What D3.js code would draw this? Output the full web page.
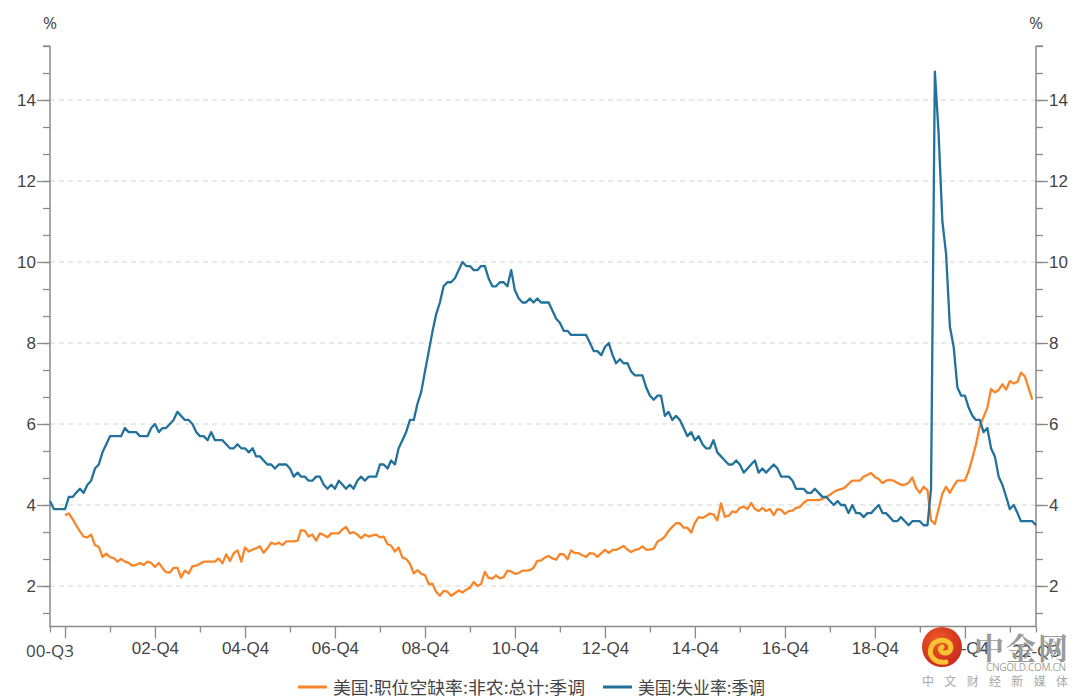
<!DOCTYPE html>
<html><head><meta charset="utf-8">
<script src="https://cdn.jsdelivr.net/npm/d3@7"></script>
<style>
html,body{margin:0;padding:0;background:#fff;}
svg{display:block;font-family:"Open Sans","Noto Sans CJK SC",sans-serif;}
</style></head>
<body>
<svg id="chart" width="1080" height="699"></svg>
<script>
// ---- data ----
const unempStart = [2000, 8];   // Aug 2000, monthly
const unempRate = [
4.1,3.9,3.9,3.9,3.9,
4.2,4.2,4.3,4.4,4.3,4.5,4.6,4.9,5.0,5.3,5.5,5.7,
5.7,5.7,5.7,5.9,5.8,5.8,5.8,5.7,5.7,5.7,5.9,6.0,
5.8,5.9,5.9,6.0,6.1,6.3,6.2,6.1,6.1,6.0,5.8,5.7,
5.7,5.6,5.8,5.6,5.6,5.6,5.5,5.4,5.4,5.5,5.4,5.4,
5.3,5.4,5.2,5.2,5.1,5.0,5.0,4.9,5.0,5.0,5.0,4.9,
4.7,4.8,4.7,4.7,4.6,4.6,4.7,4.7,4.5,4.4,4.5,4.4,
4.6,4.5,4.4,4.5,4.4,4.6,4.7,4.6,4.7,4.7,4.7,5.0,
5.0,4.9,5.1,5.0,5.4,5.6,5.8,6.1,6.1,6.5,6.8,7.3,
7.8,8.3,8.7,9.0,9.4,9.5,9.5,9.6,9.8,10.0,9.9,9.9,
9.8,9.8,9.9,9.9,9.6,9.4,9.4,9.5,9.5,9.4,9.8,9.3,
9.1,9.0,9.0,9.1,9.0,9.1,9.0,9.0,9.0,8.8,8.6,8.5,
8.3,8.3,8.2,8.2,8.2,8.2,8.2,8.0,7.8,7.8,7.7,7.9,
8.0,7.7,7.5,7.6,7.5,7.5,7.3,7.2,7.2,7.2,6.9,6.7,
6.6,6.7,6.7,6.2,6.3,6.1,6.2,6.1,5.9,5.7,5.8,5.6,
5.7,5.5,5.4,5.4,5.6,5.3,5.2,5.1,5.0,5.0,5.1,5.0,
4.8,4.9,5.0,5.1,4.8,4.9,4.8,4.9,5.0,4.9,4.7,4.7,
4.7,4.6,4.4,4.4,4.4,4.3,4.3,4.4,4.3,4.2,4.2,4.1,
4.0,4.1,4.0,4.0,3.8,4.0,3.8,3.8,3.7,3.8,3.8,3.9,
4.0,3.8,3.8,3.7,3.6,3.6,3.7,3.6,3.5,3.6,3.6,3.6,
3.5,3.5,4.4,14.7,13.2,11.0,10.2,8.4,7.9,6.9,6.7,6.7,
6.4,6.2,6.1,6.1,5.8,5.9,5.4,5.2,4.7,4.5,4.2,3.9,
4.0,3.8,3.6,3.6,3.6,3.6,3.5
];
const vacancyStart = [2000, 12]; // Dec 2000, monthly
const vacancyRate = [
3.75,
3.79,3.65,3.5,3.35,3.22,3.2,3.27,3.01,2.97,2.72,2.8,2.71,
2.69,2.6,2.67,2.6,2.57,2.5,2.52,2.57,2.52,2.6,2.57,2.47,
2.57,2.44,2.34,2.33,2.45,2.45,2.21,2.38,2.31,2.49,2.5,2.55,
2.6,2.6,2.6,2.6,2.68,2.56,2.78,2.62,2.81,2.88,2.6,2.95,
2.85,2.9,2.93,2.98,2.82,2.93,3.07,3.03,3.07,3.01,3.1,3.1,
3.1,3.12,3.38,3.36,3.22,3.27,3.12,3.3,3.26,3.2,3.3,3.3,
3.3,3.4,3.46,3.3,3.33,3.27,3.18,3.27,3.22,3.25,3.27,3.2,
3.22,3.03,3.0,2.85,2.95,2.7,2.67,2.55,2.31,2.39,2.3,2.27,
2.05,2.05,1.86,1.76,1.88,1.86,1.76,1.82,1.89,1.84,1.91,1.96,
2.1,2.0,2.05,2.35,2.2,2.18,2.26,2.19,2.22,2.38,2.36,2.3,
2.32,2.38,2.38,2.39,2.45,2.62,2.63,2.7,2.74,2.68,2.65,2.79,
2.78,2.66,2.88,2.81,2.81,2.76,2.72,2.81,2.8,2.72,2.81,2.89,
2.82,2.89,2.89,2.94,2.99,2.9,2.84,2.89,2.91,2.98,2.9,2.9,
2.92,3.1,3.14,3.22,3.36,3.46,3.55,3.55,3.44,3.44,3.32,3.56,
3.7,3.68,3.73,3.79,3.77,3.62,4.04,3.71,3.73,3.84,3.82,3.93,
3.96,3.9,4.05,3.9,3.85,3.93,3.85,3.9,3.75,3.9,3.88,3.78,
3.85,3.86,3.93,3.95,4.05,4.12,4.12,4.12,4.12,4.15,4.2,4.25,
4.32,4.37,4.39,4.43,4.52,4.6,4.6,4.6,4.7,4.74,4.79,4.69,
4.64,4.54,4.6,4.62,4.6,4.55,4.5,4.5,4.55,4.68,4.42,4.3,
4.45,4.37,3.62,3.53,3.9,4.28,4.45,4.3,4.47,4.6,4.6,4.6,
4.84,5.17,5.5,5.95,6.17,6.4,6.86,6.78,6.84,6.98,6.85,7.06,
7.0,7.04,7.27,7.18,6.9,6.6
];
const seriesNames = ["美国:职位空缺率:非农:总计:季调", "美国:失业率:季调"];
const yTickValues = [2, 4, 6, 8, 10, 12, 14];
const xTickLabels = ["02-Q4","04-Q4","06-Q4","08-Q4","10-Q4","12-Q4","14-Q4","16-Q4","18-Q4","20-Q4"];
const xEndLabels = ["00-Q3", "22-Q3"];
const unitLabel = "%";

// ---- layout ----
const L = 50, R = 1036, T = 46, B = 626.5;
const cOrange = "#f7862a", cBlue = "#22729c", axisC = "#8a8a8a", textC = "#444";
const svg = d3.select("#chart");

const toDates = (start, arr) => arr.map((v, i) => ({d: new Date(start[0], start[1] - 1 + i, 1), v}));
const uData = toDates(unempStart, unempRate);
const vData = toDates(vacancyStart, vacancyRate);

const x = d3.scaleTime().domain([new Date(2000, 7, 1), new Date(2022, 6, 1)]).range([L, R]);
const y = d3.scaleLinear().domain([1, 15 + 1/3]).range([B, T]);

// grid
svg.append("g").selectAll("line").data(yTickValues).join("line")
  .attr("x1", L).attr("x2", R).attr("y1", d => y(d)).attr("y2", d => y(d))
  .attr("stroke", "#d4d4d4").attr("stroke-width", 1).attr("stroke-dasharray", "5,4");

// y minor ticks
const yMinor = d3.range(0, 22).map(i => 4/3 + i * 2/3);
function styleAxis(g) {
  g.select(".domain").remove();
  g.selectAll("line").attr("stroke", axisC).attr("stroke-width", 1.3);
  g.selectAll("text").attr("fill", textC).style("font-size", "17px");
}
svg.append("g").attr("transform", `translate(${L},0)`)
  .call(d3.axisLeft(y).tickValues(yMinor).tickSize(7).tickFormat(""))
  .call(styleAxis);
svg.append("g").attr("transform", `translate(${L},0)`)
  .call(d3.axisLeft(y).tickValues(yTickValues).tickSize(13).tickPadding(1).tickFormat(d3.format("d")))
  .call(styleAxis);
svg.append("g").attr("transform", `translate(${R},0)`)
  .call(d3.axisRight(y).tickValues(yMinor).tickSize(7).tickFormat(""))
  .call(styleAxis);
svg.append("g").attr("transform", `translate(${R},0)`)
  .call(d3.axisRight(y).tickValues(yTickValues).tickSize(12).tickPadding(1).tickFormat(d3.format("d")))
  .call(styleAxis);

// x ticks: December of each year
const decTicks = d3.range(2000, 2022).map(yr => new Date(yr, 11, 1));
const majorTicks = decTicks.filter(d => d.getFullYear() % 2 === 0);
const minorTicks = decTicks.filter(d => d.getFullYear() % 2 === 1);
svg.append("g").attr("transform", `translate(0,${B})`)
  .call(d3.axisBottom(x).tickValues(minorTicks.concat([x.domain()[0], x.domain()[1]])).tickSize(6).tickFormat(""))
  .call(styleAxis);
const labelMap = new Map(majorTicks.slice(1).map((d, i) => [+d, xTickLabels[i]]));
svg.append("g").attr("transform", `translate(0,${B})`)
  .call(d3.axisBottom(x).tickValues(majorTicks).tickSize(12).tickPadding(3).tickFormat(d => labelMap.get(+d) || ""))
  .call(styleAxis);
// end labels
svg.append("g").selectAll("text").data([x.domain()[0], x.domain()[1]]).join("text")
  .attr("x", d => x(d)).attr("y", B + 30).attr("text-anchor", "middle")
  .attr("fill", textC).style("font-size", "17px").text((d, i) => xEndLabels[i]);

// axis lines
svg.append("path").attr("d", `M${L},${T}V${B}H${R}V${T}`).attr("fill", "none")
  .attr("stroke", axisC).attr("stroke-width", 1.5);
svg.append("line").attr("x1", L - 7).attr("x2", L).attr("y1", T).attr("y2", T).attr("stroke", axisC).attr("stroke-width", 1.3);
svg.append("line").attr("x1", R).attr("x2", R + 7).attr("y1", T).attr("y2", T).attr("stroke", axisC).attr("stroke-width", 1.3);

// unit labels
svg.selectAll(".unit").data([L, R]).join("text").attr("class", "unit")
  .attr("x", d => d).attr("y", 29).attr("text-anchor", "middle")
  .attr("fill", textC).style("font-size", "17px").text(unitLabel);

// lines
const line = d3.line().x(d => x(d.d)).y(d => y(d.v));
svg.append("path").datum(vData).attr("d", line).attr("fill", "none")
  .attr("stroke", cOrange).attr("stroke-width", 2.3).attr("stroke-linejoin", "round");
svg.append("path").datum(uData).attr("d", line).attr("fill", "none")
  .attr("stroke", cBlue).attr("stroke-width", 2.3).attr("stroke-linejoin", "round");

// legend
const legend = [{x: 298, c: cOrange, w: 252}, {x: 603, c: cBlue, w: 127}];
const lg = svg.append("g").selectAll("g").data(legend).join("g")
  .attr("transform", d => `translate(${d.x},687)`);
lg.append("line").attr("x1", 0).attr("x2", 29).attr("stroke", d => d.c).attr("stroke-width", 3);
lg.append("text").attr("x", 35).attr("y", 6.5)
  .attr("fill", textC).style("font-family", "'Noto Sans CJK SC',sans-serif").style("font-size", "17px")
  .attr("textLength", d => d.w).attr("lengthAdjust", "spacingAndGlyphs")
  .text((d, i) => seriesNames[i]);

// watermark logo (drawn on top, as in the reference)
const wm = svg.append("g");
const grad = svg.append("defs").append("radialGradient").attr("id", "lg").attr("cx", "40%").attr("cy", "35%").attr("r", "70%");
grad.append("stop").attr("offset", "0%").attr("stop-color", "#f05a28");
grad.append("stop").attr("offset", "100%").attr("stop-color", "#c8281c");
wm.append("circle").attr("cx", 942).attr("cy", 647).attr("r", 20).attr("fill", "url(#lg)");
wm.append("path").attr("d", "M946,662 C936,664 928,656 931,648 C933,641 942,638 948,642 C953,646 951,653 945,653 C941,653 939,649 942,647")
  .attr("fill", "none").attr("stroke", "#f7c433").attr("stroke-width", 5).attr("stroke-linecap", "round");
wm.append("text").attr("x", 974).attr("y", 659).attr("fill", "#9b9b9b")
  .style("font-family", "'Noto Serif CJK SC','Noto Sans CJK SC',serif").style("font-weight", "bold").style("font-size", "30px")
  .attr("textLength", 94).text("中金网");
wm.append("text").attr("x", 986).attr("y", 671).attr("fill", "#a0a0a0")
  .style("font-size", "10px").attr("textLength", 80).text("CNGOLD.COM.CN");
wm.append("text").attr("x", 922).attr("y", 686).attr("fill", "#a8a8a8")
  .style("font-family", "'Noto Sans CJK SC',sans-serif").style("font-size", "12px")
  .attr("textLength", 146).attr("lengthAdjust", "spacing").text("中文财经新媒体");
</script>
</body></html>
